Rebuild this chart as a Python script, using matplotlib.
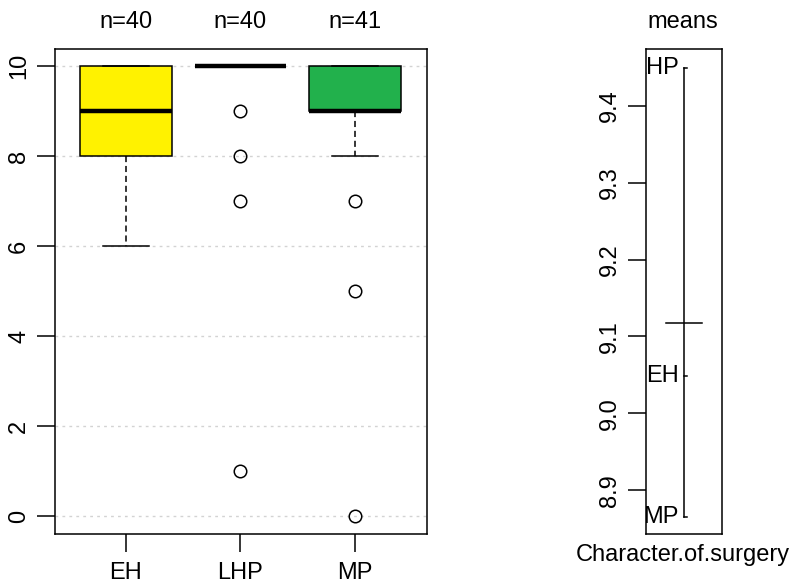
import matplotlib
matplotlib.use("Agg")
import matplotlib.pyplot as plt
import matplotlib.transforms as mtransforms

plt.rcParams['font.family'] = ['Liberation Sans', 'DejaVu Sans']

# boxplot summary per group
groups = ['EH', 'LHP', 'MP']
counts = [40, 40, 41]
whislo = [6, 10, 8]
q1 = [8, 10, 9]
med = [9, 10, 9]
q3 = [10, 10, 10]
whishi = [10, 10, 10]
fliers = [[], [9, 8, 7, 1], [7, 5, 0]]
box_colors = ['#FFF200', '#FFFFFF', '#22B14C']

# design plot of means
mean_labels = ['LHP', 'EH', 'MP']
mean_values = [9.449, 9.048, 8.865]
grand_mean = 9.118

FS = 17
W, H = 793, 584
fig = plt.figure(figsize=(W / 100, H / 100), dpi=100)

ax = fig.add_axes([55 / W, 1 - 534 / H, 372 / W, 485 / H])
stats = []
for i, g in enumerate(groups):
    stats.append(dict(label=g, whislo=whislo[i], q1=q1[i], med=med[i],
                      q3=q3[i], whishi=whishi[i], fliers=fliers[i]))
pos = list(range(1, len(groups) + 1))
for y in range(0, 11, 2):
    ax.axhline(y, color='#D3D3D3', lw=1, ls=(0, (2, 3)), zorder=0)
bp = ax.bxp(stats, positions=pos, widths=0.8, capwidths=0.4, patch_artist=True,
            boxprops=dict(lw=1.1, edgecolor='black'),
            medianprops=dict(color='black', lw=3.2, solid_capstyle='butt'),
            whiskerprops=dict(lw=1.1, ls=(0, (4, 2.5))),
            capprops=dict(lw=1.1),
            flierprops=dict(marker='o', markersize=9, markerfacecolor='none',
                            markeredgecolor='black', markeredgewidth=1.1))
for patch, c in zip(bp['boxes'], box_colors):
    patch.set_facecolor(c)
    patch.set_zorder(2)
ax.set_xlim(0.38, 3.63)
ax.set_ylim(-0.4, 10.38)
ax.set_yticks(range(0, 11, 2))
ax.set_xticks(pos)
ax.set_xticklabels(groups)
for lab in ax.get_yticklabels():
    lab.set_rotation(90)
    lab.set_va('center')
ax.tick_params(labelsize=FS, length=13, width=1.1, pad=5)
ax.tick_params(axis='x', pad=7)
for s in ax.spines.values():
    s.set_linewidth(1.1)
tr = mtransforms.blended_transform_factory(ax.transData, fig.transFigure)
for p, n in zip(pos, counts):
    ax.text(p, 1 - 22 / H, 'n=%d' % n, transform=tr, ha='center', va='center',
            fontsize=FS)

ax2 = fig.add_axes([646 / W, 1 - 534 / H, 76 / W, 485 / H])
ax2.set_xlim(0.5, 1.5)
ax2.set_ylim(8.843, 9.474)
ax2.plot([1, 1], [min(mean_values), max(mean_values)], color='black', lw=1.1)
ax2.plot([1 - 0.237, 1 + 0.237], [grand_mean, grand_mean], color='black', lw=1.1)
for lab, v in zip(mean_labels, mean_values):
    ax2.plot([1, 1.04], [v, v], color='black', lw=1.1)
    ax2.text(0.93, v, lab, ha='right', va='center', fontsize=FS, clip_on=True)
ax2.set_xticks([])
ax2.set_yticks([8.9, 9.0, 9.1, 9.2, 9.3, 9.4])
ax2.set_yticklabels(['8.9', '9.0', '9.1', '9.2', '9.3', '9.4'])
for lab in ax2.get_yticklabels():
    lab.set_rotation(90)
    lab.set_va('center')
ax2.tick_params(labelsize=FS, length=13, width=1.1, pad=5)
for s in ax2.spines.values():
    s.set_linewidth(1.1)
fig.text(683 / W, 1 - 22 / H, 'means', ha='center', va='center', fontsize=FS)
fig.text(683 / W, 1 - 555 / H, 'Character.of.surgery', ha='center', va='center',
         fontsize=FS)

fig.savefig('out.png', dpi=100)
